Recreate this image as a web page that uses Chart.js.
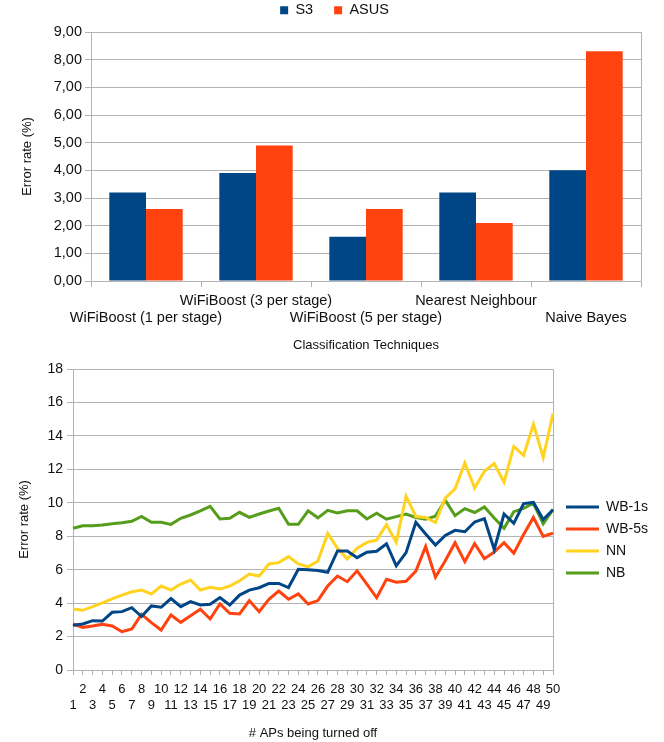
<!DOCTYPE html>
<html>
<head>
<meta charset="utf-8">
<script src="https://cdn.jsdelivr.net/npm/chart.js@4/dist/chart.umd.min.js"></script>
<style>
  html, body { margin: 0; padding: 0; background: #fff; overflow: hidden; }
  body { width: 664px; height: 742px; position: relative; }
  .box { position: absolute; left: 0; width: 664px; }
  #topBox { top: -18px; height: 373px; }
  #bottomBox { top: 338px; height: 404px; }
</style>
</head>
<body>
<div class="box" id="topBox"><canvas id="techChart"></canvas></div>
<div class="box" id="bottomBox"><canvas id="apChart"></canvas></div>
<script>
// --- top chart: error rate per technique ---
const techniques = ['WiFiBoost (1 per stage)', 'WiFiBoost (3 per stage)', 'WiFiBoost (5 per stage)', 'Nearest Neighbour', 'Naive Bayes'];
const s3Rates = [3.2, 3.9, 1.6, 3.2, 4.0];
const asusRates = [2.6, 4.9, 2.6, 2.1, 8.3];

// --- bottom chart: error rate vs number of APs turned off ---
const apsOff = [1, 2, 3, 4, 5, 6, 7, 8, 9, 10, 11, 12, 13, 14, 15, 16, 17, 18, 19, 20, 21, 22, 23, 24, 25,
    26, 27, 28, 29, 30, 31, 32, 33, 34, 35, 36, 37, 38, 39, 40, 41, 42, 43, 44, 45, 46, 47, 48, 49, 50];
const wb1s = [2.67, 2.75, 2.95, 2.93, 3.45, 3.49, 3.73, 3.2, 3.83, 3.75, 4.27, 3.79, 4.09, 3.89, 3.93, 4.33, 3.89, 4.48, 4.78, 4.92, 5.18, 5.18, 4.93, 6.02, 6.0,
    5.95, 5.84, 7.12, 7.12, 6.72, 7.04, 7.1, 7.55, 6.23, 7.02, 8.83, 8.13, 7.47, 8.05, 8.35, 8.27, 8.85, 9.05, 7.21, 9.33, 8.77, 9.95, 10.02, 9.0, 9.58];
const wb5s = [2.75, 2.55, 2.63, 2.73, 2.63, 2.29, 2.45, 3.33, 2.83, 2.39, 3.29, 2.85, 3.24, 3.63, 3.05, 3.95, 3.39, 3.35, 4.15, 3.49, 4.23, 4.72, 4.23, 4.55, 3.95,
    4.15, 5.02, 5.62, 5.28, 5.93, 5.13, 4.32, 5.42, 5.25, 5.31, 5.91, 7.39, 5.55, 6.53, 7.61, 6.48, 7.55, 6.66, 7.05, 7.61, 6.98, 8.1, 9.12, 7.99, 8.19];
const nn = [3.65, 3.57, 3.79, 4.01, 4.25, 4.48, 4.68, 4.78, 4.55, 5.02, 4.78, 5.14, 5.38, 4.78, 4.94, 4.84, 5.02, 5.34, 5.74, 5.62, 6.34, 6.42, 6.78, 6.34, 6.17,
    6.52, 8.17, 7.28, 6.64, 7.28, 7.63, 7.77, 8.69, 7.64, 10.4, 9.18, 9.12, 8.82, 10.28, 10.83, 12.38, 10.88, 11.88, 12.34, 11.23, 13.37, 12.83, 14.7, 12.71, 15.33];
const nb = [8.48, 8.63, 8.63, 8.67, 8.75, 8.81, 8.89, 9.18, 8.83, 8.83, 8.71, 9.07, 9.27, 9.52, 9.79, 9.03, 9.07, 9.43, 9.13, 9.33, 9.51, 9.67, 8.71, 8.71, 9.52,
    9.1, 9.55, 9.39, 9.52, 9.52, 9.03, 9.37, 9.02, 9.17, 9.33, 9.12, 9.02, 9.2, 10.15, 9.23, 9.65, 9.42, 9.75, 9.09, 8.47, 9.47, 9.67, 9.97, 8.75, 9.61];

const GRID = '#b3b3b3';
Chart.defaults.font.family = "'Liberation Sans', Arial, sans-serif";
Chart.defaults.color = '#111';
Chart.defaults.animation = false;

// office style: every other category label drops to a second row
function stagger(label, index) {
    return index % 2 === 0 ? ['', label] : [label];
}

// empty right axis, only used for its border (the frame line on the right)
function frameAxis(width) {
    return {
        type: 'linear', position: 'right', display: true,
        grid: { drawOnChartArea: false, drawTicks: false },
        ticks: { display: false },
        border: { color: GRID },
        afterFit: s => { s.width = width; }
    };
}

// empty top axis, just a spacer between legend and plot
function gapAxis(height) {
    return {
        type: 'linear', position: 'top', display: true,
        grid: { display: false },
        ticks: { display: false },
        border: { display: false },
        afterFit: s => { s.height = height; }
    };
}

new Chart(document.getElementById('techChart'), {
    type: 'bar',
    data: {
        labels: techniques,
        datasets: [
            { label: 'S3', data: s3Rates, backgroundColor: '#004586', borderWidth: 0 },
            { label: 'ASUS', data: asusRates, backgroundColor: '#ff420e', borderWidth: 0 }
        ]
    },
    options: {
        responsive: true,
        maintainAspectRatio: false,
        layout: { padding: { left: 16, right: 11, top: 0, bottom: 0 } },
        datasets: { bar: { categoryPercentage: 0.667, barPercentage: 1 } },
        plugins: {
            legend: { position: 'top', labels: { boxWidth: 8, boxHeight: 8, padding: 21, font: { size: 14.5 } } },
            tooltip: { enabled: false }
        },
        scales: {
            x: {
                grid: { drawOnChartArea: false, color: GRID, tickLength: 6 },
                border: { color: GRID },
                ticks: {
                    autoSkip: false, maxRotation: 0, minRotation: 0, padding: 5, font: { size: 14.5 },
                    callback: function (v, i) { return stagger(this.getLabelForValue(v), i); }
                },
                title: { display: true, text: 'Classification Techniques', font: { size: 13 }, padding: { top: 0, bottom: 2 } },
                afterFit: s => { s.height = 74; }
            },
            x2: gapAxis(4.5),
            y: {
                min: 0, max: 9,
                ticks: { stepSize: 1, padding: 3, font: { size: 14.5 }, callback: v => v.toFixed(2).replace('.', ',') },
                grid: { color: GRID, tickLength: 6 },
                border: { color: GRID },
                title: { display: true, text: 'Error rate (%)', font: { size: 13 }, padding: { top: 4, bottom: 0 } },
                afterFit: s => { s.width = 75; }
            },
            y2: frameAxis(12)
        }
    }
});

function series(label, values, color) {
    return { label: label, data: values, borderColor: color, backgroundColor: color, borderWidth: 3, pointRadius: 0, tension: 0, fill: false };
}

new Chart(document.getElementById('apChart'), {
    type: 'line',
    data: {
        labels: apsOff,
        datasets: [
            series('WB-1s', wb1s, '#004586'),
            series('WB-5s', wb5s, '#ff420e'),
            series('NN', nn, '#ffd320'),
            series('NB', nb, '#579d1c')
        ]
    },
    options: {
        responsive: true,
        maintainAspectRatio: false,
        layout: { padding: { left: 13, right: 10, top: 0, bottom: 0 } },
        plugins: {
            legend: {
                position: 'right',
                maxWidth: 96,
                labels: {
                    boxWidth: 33, boxHeight: 3, padding: 8, font: { size: 14 },
                    generateLabels: chart => Chart.defaults.plugins.legend.labels.generateLabels(chart)
                        .map(item => Object.assign(item, { lineWidth: 0 }))
                }
            },
            tooltip: { enabled: false }
        },
        scales: {
            x: {
                grid: { drawOnChartArea: false, color: GRID, tickLength: 5 },
                border: { color: GRID },
                ticks: {
                    autoSkip: false, maxRotation: 0, minRotation: 0, padding: 7, font: { size: 13 },
                    callback: function (v, i) { return stagger(String(this.getLabelForValue(v)), i); }
                },
                title: { display: true, text: '# APs being turned off', font: { size: 13 }, padding: { top: 0, bottom: 1 } },
                afterFit: s => { s.height = 72; }
            },
            x2: gapAxis(31),
            y: {
                min: 0, max: 18,
                ticks: { stepSize: 2, padding: 4, font: { size: 14 } },
                grid: { color: GRID, tickLength: 6 },
                border: { color: GRID },
                title: { display: true, text: 'Error rate (%)', font: { size: 13 }, padding: { top: 4, bottom: 0 } },
                afterFit: s => { s.width = 60; }
            },
            y2: frameAxis(5)
        }
    }
});
</script>
</body>
</html>
